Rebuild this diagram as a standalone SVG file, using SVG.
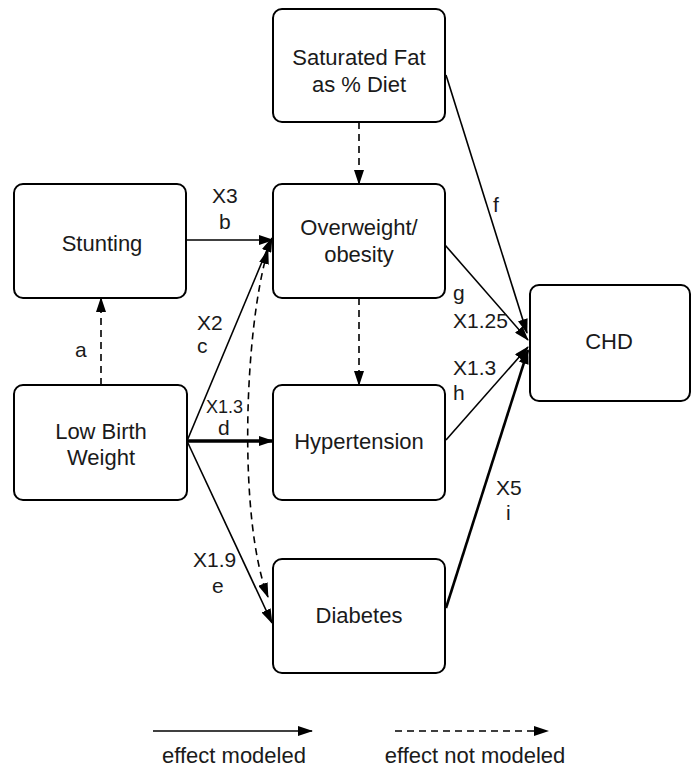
<svg xmlns="http://www.w3.org/2000/svg" width="695" height="770" viewBox="0 0 695 770">
<style>
.box{fill:#fff;stroke:#000;stroke-width:2}
.t{font-family:"Liberation Sans",Arial,sans-serif;font-size:22px;fill:#1a1a1a;text-anchor:middle}
.l{font-family:"Liberation Sans",Arial,sans-serif;font-size:21px;fill:#1a1a1a;text-anchor:start}
.s{fill:none;stroke:#000;stroke-width:1.6}
.d{fill:none;stroke:#000;stroke-width:1.6;stroke-dasharray:7 5}
</style>
<defs>
<marker id="ah" markerUnits="userSpaceOnUse" markerWidth="15" markerHeight="10" refX="14" refY="5" orient="auto"><path d="M0,0 L15,5 L0,10 z" fill="#000"/></marker>
<marker id="ah2" markerUnits="userSpaceOnUse" markerWidth="15" markerHeight="10" refX="14" refY="5" orient="auto-start-reverse"><path d="M0,0 L15,5 L0,10 z" fill="#000"/></marker>
</defs>
<g id="satfat"><rect class="box" x="273" y="9" width="172" height="113" rx="9"/><text class="t" x="359" y="65">Saturated Fat</text><text class="t" x="359" y="92">as % Diet</text></g>
<g id="stunting"><rect class="box" x="14" y="184" width="172" height="114" rx="9"/><text class="t" x="102" y="251">Stunting</text></g>
<g id="overweight"><rect class="box" x="273" y="184" width="172" height="114" rx="9"/><text class="t" x="359" y="235">Overweight/</text><text class="t" x="359" y="262">obesity</text></g>
<g id="lbw"><rect class="box" x="14" y="385" width="173" height="115" rx="9"/><text class="t" x="101" y="439">Low Birth</text><text class="t" x="101" y="465">Weight</text></g>
<g id="hypertension"><rect class="box" x="273" y="385" width="172" height="115" rx="9"/><text class="t" x="359" y="449">Hypertension</text></g>
<g id="diabetes"><rect class="box" x="273" y="559" width="172" height="114" rx="9"/><text class="t" x="359" y="623">Diabetes</text></g>
<g id="chd"><rect class="box" x="530" y="285" width="160" height="116" rx="9"/><text class="t" x="609" y="349">CHD</text></g>
<g id="connectors">
<line class="d" x1="359" y1="122" x2="359" y2="184" marker-end="url(#ah)"/>
<line class="s" x1="186" y1="240" x2="273" y2="240" marker-end="url(#ah)"/>
<line class="d" x1="101" y1="385" x2="101" y2="298" marker-end="url(#ah)"/>
<line class="d" x1="359" y1="298" x2="359" y2="385" marker-end="url(#ah)"/>
<line class="s" x1="187" y1="441" x2="272" y2="238" marker-end="url(#ah)"/>
<line class="s" style="stroke-width:3.5" x1="187" y1="441" x2="273" y2="441" marker-end="url(#ah)"/>
<line class="s" x1="187" y1="441" x2="272" y2="623" marker-end="url(#ah)"/>
<path class="d" d="M268 250 C244 330 238 520 268 597" marker-start="url(#ah2)" marker-end="url(#ah2)"/>
<line class="s" x1="446" y1="75" x2="527" y2="333" marker-end="url(#ah)"/>
<line class="s" x1="445" y1="245" x2="528" y2="340" marker-end="url(#ah)"/>
<line class="s" x1="446" y1="440" x2="528" y2="347" marker-end="url(#ah)"/>
<line class="s" style="stroke-width:2.6" x1="446" y1="608" x2="528" y2="350" marker-end="url(#ah)"/>
</g>
<g id="labels">
<text class="l" x="212" y="203">X3</text><text class="l" x="219" y="229">b</text>
<text class="l" x="75" y="357">a</text>
<text class="l" x="197" y="330">X2</text><text class="l" x="197" y="353">c</text>
<text class="l" style="font-size:18px" x="206" y="413">X1.3</text><text class="l" x="218" y="435">d</text>
<text class="l" x="193" y="567">X1.9</text><text class="l" x="212" y="593">e</text>
<text class="l" x="493" y="212">f</text>
<text class="l" x="453" y="300">g</text><text class="l" x="453" y="328">X1.25</text>
<text class="l" x="453" y="375">X1.3</text><text class="l" x="453" y="400">h</text>
<text class="l" x="496" y="495">X5</text><text class="l" x="506" y="520">i</text>
</g>
<g id="legend">
<line class="s" x1="153" y1="731" x2="312" y2="731" marker-end="url(#ah)"/>
<line class="d" x1="395" y1="731" x2="548" y2="731" marker-end="url(#ah)"/>
<text class="t" x="234" y="763">effect modeled</text>
<text class="t" x="475" y="763">effect not modeled</text>
</g>
</svg>
